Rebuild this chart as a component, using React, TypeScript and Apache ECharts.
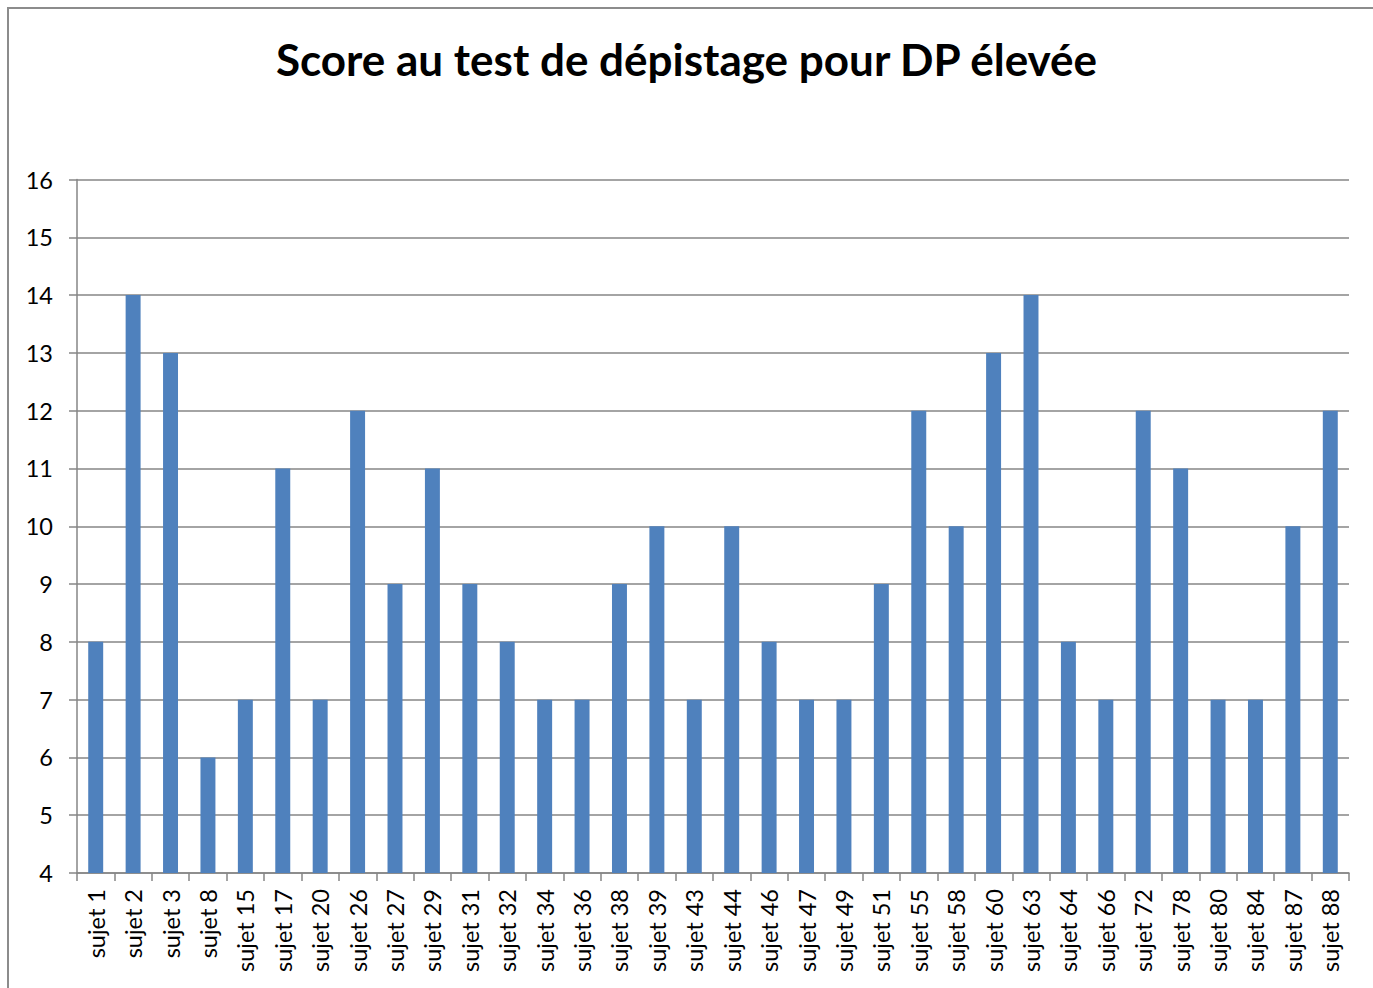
import React, { useEffect, useRef } from "react";
import * as echarts from "echarts";

const categories = ["sujet 1","sujet 2","sujet 3","sujet 8","sujet 15","sujet 17","sujet 20","sujet 26","sujet 27","sujet 29","sujet 31","sujet 32","sujet 34","sujet 36","sujet 38","sujet 39","sujet 43","sujet 44","sujet 46","sujet 47","sujet 49","sujet 51","sujet 55","sujet 58","sujet 60","sujet 63","sujet 64","sujet 66","sujet 72","sujet 78","sujet 80","sujet 84","sujet 87","sujet 88"];
const scores = [8,14,13,6,7,11,7,12,9,11,9,8,7,7,9,10,7,10,8,7,7,9,12,10,13,14,8,7,12,11,7,7,10,12];
const title = "Score au test de dépistage pour DP élevée";

export default function App() {
  const ref = useRef<HTMLDivElement>(null);
  useEffect(() => {
    const chart = echarts.init(ref.current!, undefined, { renderer: "svg" });
    const font = "Lato";
    chart.setOption({
      animation: false,
      backgroundColor: "#ffffff",
      title: {
        text: title,
        left: "center",
        top: 32,
        textStyle: { fontFamily: font, fontWeight: "bold", fontSize: 44, color: "#000" },
      },
      graphic: [
        {
          type: "rect",
          shape: { x: 8, y: 8, width: 1400, height: 1000 },
          style: { fill: "none", stroke: "#8c8c8c", lineWidth: 2 },
          silent: true,
        },
      ],
      grid: { left: 77, top: 179.5, right: 24, bottom: 115, containLabel: false },
      xAxis: {
        type: "category",
        data: categories,
        boundaryGap: true,
        axisLine: { show: true, lineStyle: { color: "#868686", width: 1.5 } },
        axisTick: { show: true, alignWithLabel: false, length: 8, lineStyle: { color: "#868686", width: 1.5 } },
        axisLabel: { rotate: 90, interval: 0, margin: 16, color: "#000", fontFamily: font, fontSize: 23.5 },
        splitLine: { show: false },
      },
      yAxis: {
        type: "value",
        min: 4,
        max: 16,
        interval: 1,
        axisLine: { show: true, lineStyle: { color: "#868686", width: 1.5 } },
        axisTick: { show: true, length: 8, lineStyle: { color: "#868686", width: 1.5 } },
        axisLabel: { margin: 24, color: "#000", fontFamily: font, fontSize: 23.5 },
        splitLine: { show: true, lineStyle: { color: "#868686", width: 1.5 } },
      },
      series: [
        {
          type: "bar",
          data: scores,
          barWidth: "40%",
          itemStyle: { color: "#4F81BD" },
        },
      ],
    });
    return () => chart.dispose();
  }, []);
  return <div ref={ref} style={{ position: "fixed", left: 0, top: 0, width: 1373, height: 988 }} />;
}
